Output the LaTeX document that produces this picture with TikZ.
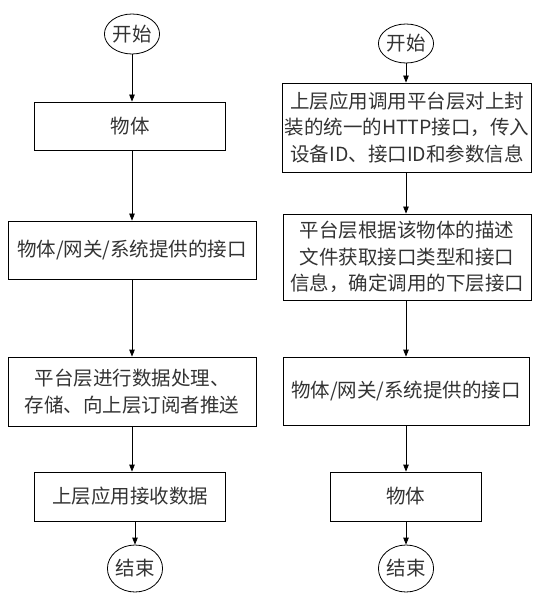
\documentclass[tikz,border=0pt]{standalone}
\usepackage{fontspec}
\newfontfamily\cjk{Noto Sans CJK SC}
\usetikzlibrary{shapes.geometric,arrows.meta}
\begin{document}
\begin{tikzpicture}[x=1pt,y=-1pt,
        box/.style={draw,line width=0.8pt,align=center,inner sep=2pt,text=black!80,
            font=\cjk\fontsize{19.5}{26.5}\selectfont},
        term/.style={draw,ellipse,line width=0.8pt,inner sep=0pt,text=black!80,
            font=\cjk\fontsize{19.5}{26.5}\selectfont},
        flow/.style={-{Triangle[length=7pt,width=5.5pt]},line width=0.8pt}]
        \useasboundingbox (0,0) rectangle (539,593);

        \node[term,minimum width=48pt,minimum height=40pt] (ls) at (132,34) {开始};
        \node[box,minimum width=191pt,minimum height=48pt] (l1) at (130,126) {物体};
        \node[box,minimum width=248pt,minimum height=58pt] (l2) at (132,250) {物体/网关/系统提供的接口};
        \node[box,minimum width=248pt,minimum height=69pt] (l3) at (132,391.5) {平台层进行数据处理、\\存储、向上层订阅者推送};
        \node[box,minimum width=191pt,minimum height=49pt] (l4) at (130,496.5) {上层应用接收数据};
        \node[term,minimum width=51pt,minimum height=47pt] (le) at (135,568.5) {结束};

        \draw[flow] (ls.south) -- (ls.south |- l1.north);
        \draw[flow] (l2.north |- l1.south) -- (l2.north);
        \draw[flow] (l2.south) -- (l3.north);
        \draw[flow] (l3.south) -- (l3.south |- l4.north);
        \draw[flow] (le.north |- l4.south) -- (le.north);

        \node[term,minimum width=48pt,minimum height=39pt] (rs) at (406,43.5) {开始};
        \node[box,minimum width=248pt,minimum height=89pt] (r1) at (407,127.5) {上层应用调用平台层对上封\\装的统一的HTTP接口，传入\\设备ID、接口ID和参数信息};
        \node[box,minimum width=248pt,minimum height=86pt] (r2) at (407,257) {平台层根据该物体的描述\\文件获取接口类型和接口\\信息，确定调用的下层接口};
        \node[box,minimum width=246pt,minimum height=68pt] (r3) at (406,391) {物体/网关/系统提供的接口};
        \node[box,minimum width=151pt,minimum height=49pt] (r4) at (405.5,496.5) {物体};
        \node[term,minimum width=50pt,minimum height=47pt] (re) at (406,568.5) {结束};

        \draw[flow] (rs.south) -- (rs.south |- r1.north);
        \draw[flow] (rs.south |- r1.south) -- (rs.south |- r2.north);
        \draw[flow] (r3.north |- r2.south) -- (r3.north);
        \draw[flow] (r3.south) -- (r3.south |- r4.north);
        \draw[flow] (re.north |- r4.south) -- (re.north);
    \end{tikzpicture}
\end{document}
